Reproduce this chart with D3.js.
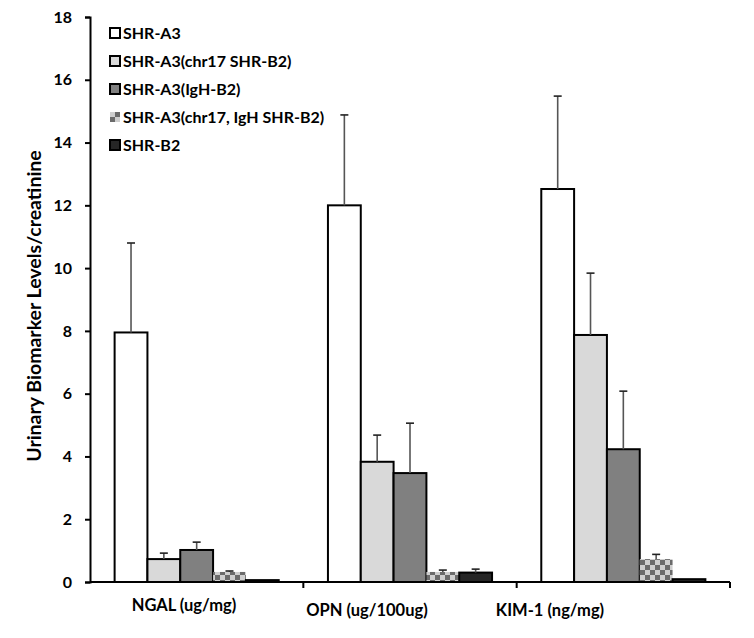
<!DOCTYPE html>
<meta charset="utf-8">
<title>Urinary biomarkers</title>
<style>
	body { margin: 0; background: #fff; }
	svg text { font-family: 'Lato', 'Liberation Sans', sans-serif; font-weight: bold; fill: #000; }
</style>
<body>
<div id="chart"></div>
<script src="https://d3js.org/d3.v7.min.js"></script>
<script>
// --- data ---
var categories = ["NGAL (ug/mg)", "OPN (ug/100ug)", "KIM-1 (ng/mg)"];
var series = ["SHR-A3", "SHR-A3(chr17 SHR-B2)", "SHR-A3(IgH-B2)", "SHR-A3(chr17, IgH SHR-B2)", "SHR-B2"];
// one array per series, in category order
var meanA3 = [7.95, 12.0, 12.52];
var meanChr17 = [0.73, 3.83, 7.87];
var meanIgH = [1.02, 3.47, 4.23];
var meanBoth = [0.32, 0.32, 0.73];
var meanB2 = [0.06, 0.30, 0.09];
// upper end of error bars
var topA3 = [10.8, 14.88, 15.48];
var topChr17 = [0.92, 4.68, 9.84];
var topIgH = [1.27, 5.06, 6.08];
var topBoth = [0.35, 0.38, 0.88];
var topB2 = [0.06, 0.41, 0.09];
var yTicks = [0, 2, 4, 6, 8, 10, 12, 14, 16, 18];

var means = [meanA3, meanChr17, meanIgH, meanBoth, meanB2];
var tops = [topA3, topChr17, topIgH, topBoth, topB2];

var width = 754, height = 638;
var plotLeft = 90, plotRight = 730, plotTop = 17, plotBottom = 582;

var svg = d3.select("#chart").append("svg")
	.attr("width", width)
	.attr("height", height);

// checker pattern for the 4th series
var defs = svg.append("defs");
var pat = defs.append("pattern")
	.attr("id", "checker")
	.attr("patternUnits", "userSpaceOnUse")
	.attr("width", 10).attr("height", 10);
pat.append("rect").attr("width", 10).attr("height", 10).attr("fill", "#cfcfcf");
pat.append("rect").attr("width", 5).attr("height", 5).attr("fill", "#6b6b6b");
pat.append("rect").attr("x", 5).attr("y", 5).attr("width", 5).attr("height", 5).attr("fill", "#6b6b6b");

var fills = ["#ffffff", "#d9d9d9", "#808080", "url(#checker)", "#262626"];
var strokes = ["#000", "#000", "#000", "none", "#000"];

var x0 = d3.scaleBand().domain(categories).range([plotLeft, plotRight]);
var x1 = d3.scaleBand().domain(series).range([0, x0.bandwidth()]).paddingOuter(0.75);
var y = d3.scaleLinear().domain([0, 18]).range([plotBottom, plotTop]);

// flatten for drawing
var rows = [];
series.forEach(function (s, i) {
	categories.forEach(function (c, j) {
		rows.push({ s: s, i: i, c: c, v: means[i][j], e: tops[i][j] });
	});
});

// bars
svg.append("g").selectAll("rect")
	.data(rows)
	.enter().append("rect")
	.attr("x", function (d) { return x0(d.c) + x1(d.s); })
	.attr("y", function (d) { return y(d.v); })
	.attr("width", x1.bandwidth())
	.attr("height", function (d) { return y(0) - y(d.v); })
	.attr("fill", function (d) { return fills[d.i]; })
	.attr("stroke", function (d) { return strokes[d.i]; })
	.attr("stroke-width", 2);

// error bars (upper only)
var err = svg.append("g").attr("stroke", "#555").attr("stroke-width", 1.6);
rows.filter(function (d) { return d.e > d.v; }).forEach(function (d) {
	var cx = x0(d.c) + x1(d.s) + x1.bandwidth() / 2;
	err.append("line")
		.attr("x1", cx).attr("x2", cx)
		.attr("y1", y(d.v)).attr("y2", y(d.e));
	err.append("line")
		.attr("x1", cx - 4).attr("x2", cx + 4)
		.attr("y1", y(d.e)).attr("y2", y(d.e))
		.attr("stroke", "#222");
});

// y axis
var yAxis = svg.append("g")
	.attr("transform", "translate(" + plotLeft + ",0)")
	.call(d3.axisLeft(y).tickValues(yTicks).tickSize(5).tickPadding(13).tickSizeOuter(5));
yAxis.select(".domain").attr("stroke-width", 2);
yAxis.selectAll(".tick line").attr("stroke-width", 2);
yAxis.selectAll(".tick text").style("font-size", "16px");

// x axis: ticks at the group boundaries
var xAxis = svg.append("g").attr("transform", "translate(0," + plotBottom + ")");
xAxis.append("line")
	.attr("x1", plotLeft).attr("x2", plotRight)
	.attr("stroke", "#000").attr("stroke-width", 2);
xAxis.selectAll(".xt")
	.data(categories)
	.enter().append("line")
	.attr("x1", function (c) { return x0(c) + x0.bandwidth(); })
	.attr("x2", function (c) { return x0(c) + x0.bandwidth(); })
	.attr("y1", 0).attr("y2", 6)
	.attr("stroke", "#000").attr("stroke-width", 2);

// category labels sit a little left of band centres in the original
var xLab = d3.scalePoint().domain(categories).range([184, 550]);
svg.append("g").selectAll("text")
	.data(categories)
	.enter().append("text")
	.attr("x", function (c) { return xLab(c); })
	.attr("y", function (c, i) { return i === 0 ? 611 : 616; })
	.attr("text-anchor", "middle")
	.style("font-size", "16.5px")
	.text(function (c) { return c; });

// y title
svg.append("text")
	.attr("transform", "translate(41,306) rotate(-90)")
	.attr("text-anchor", "middle")
	.style("font-size", "19.5px")
	.text("Urinary Biomarker Levels/creatinine");

// legend
var leg = svg.append("g").attr("transform", "translate(110,33)");
var li = leg.selectAll("g")
	.data(series)
	.enter().append("g")
	.attr("transform", function (d, i) { return "translate(0," + (i * 28) + ")"; });
li.append("rect")
	.attr("x", 0).attr("y", -5)
	.attr("width", 10).attr("height", 10)
	.attr("fill", function (d, i) { return fills[i]; })
	.attr("stroke", function (d, i) { return strokes[i]; })
	.attr("stroke-width", 2);
li.append("text")
	.attr("x", 13).attr("dy", "0.35em")
	.style("font-size", "16px")
	.text(function (d) { return d; });
</script>
</body>
